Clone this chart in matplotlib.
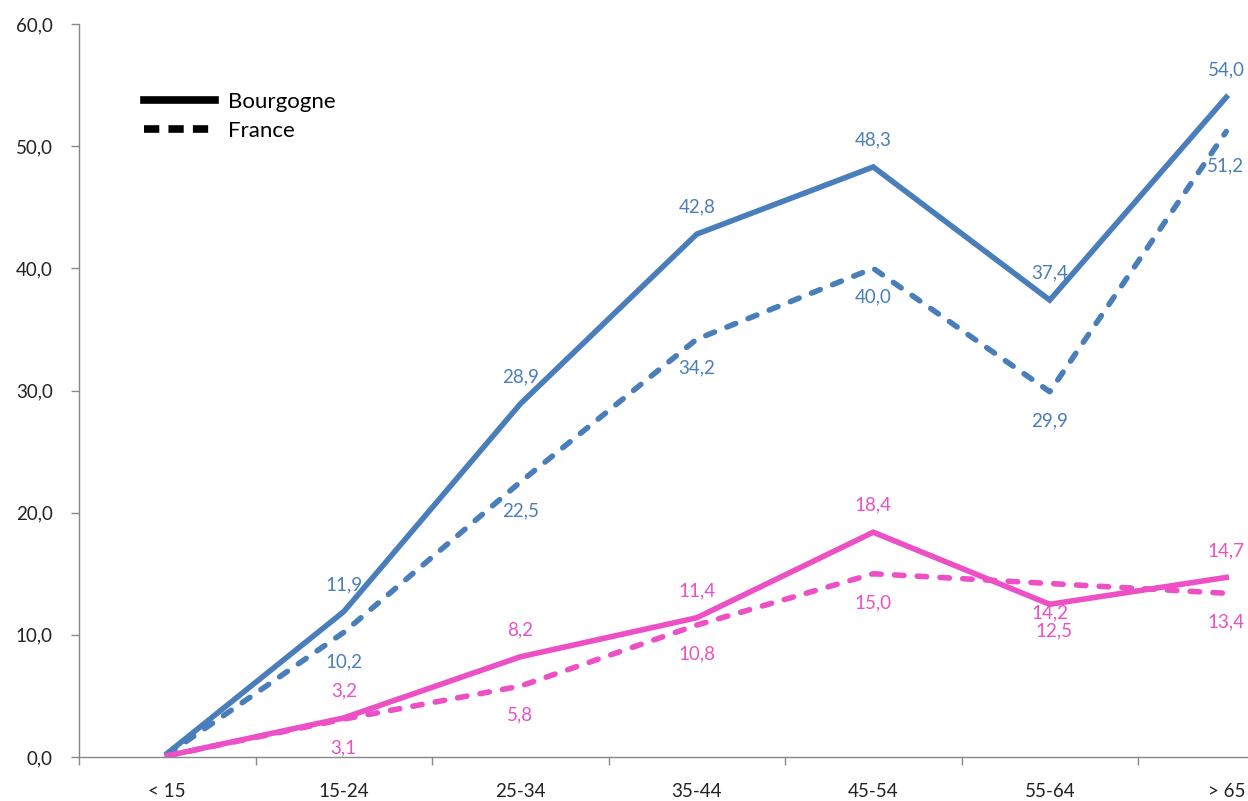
import matplotlib
matplotlib.use("Agg")
import matplotlib.pyplot as plt
from matplotlib.lines import Line2D
from matplotlib.ticker import FuncFormatter, FixedLocator

plt.rcParams['font.family'] = ['Lato', 'DejaVu Sans']

# age groups
categories = ["< 15", "15-24", "25-34", "35-44", "45-54", "55-64", "> 65"]

# blue series
blue_bourgogne = [0.3, 11.9, 28.9, 42.8, 48.3, 37.4, 54.0]
blue_france = [0.2, 10.2, 22.5, 34.2, 40.0, 29.9, 51.2]
# pink series
pink_bourgogne = [0.1, 3.2, 8.2, 11.4, 18.4, 12.5, 14.7]
pink_france = [0.1, 3.1, 5.8, 10.8, 15.0, 14.2, 13.4]

blue = '#4A7EBB'
pink = '#EC50C4'

W, H = 1248, 801
fig = plt.figure(figsize=(W / 100, H / 100), dpi=100)
# axes run past the right edge, like the original
ax = fig.add_axes([79 / W, 44 / H, 1235.5 / W, 733 / H])

x = list(range(len(categories)))
lw = 4.0
dash = (1.7, 2.4)
ax.plot(x, blue_bourgogne, color=blue, lw=lw, solid_joinstyle='miter')
ax.plot(x, blue_france, color=blue, lw=lw, dashes=dash, dash_capstyle='round')
ax.plot(x, pink_bourgogne, color=pink, lw=lw, solid_joinstyle='miter')
ax.plot(x, pink_france, color=pink, lw=lw, dashes=dash, dash_capstyle='round')

def fmt(v):
    return ("%.1f" % v).replace(".", ",")

# data labels: Bourgogne above, France below (12,5 goes below too)
def labels(vals, color, offsets):
    for i, v in enumerate(vals):
        if i == 0:
            continue
        dx, dy = offsets.get(i, (0, 0))
        ax.annotate(fmt(v), (i, v), xytext=(dx, dy), textcoords='offset pixels',
                    ha='center', va='center', color=color, fontsize=13.5,
                    annotation_clip=False)

up = {i: (0, 27) for i in range(1, 7)}
down = {i: (0, -29) for i in range(1, 7)}
labels(blue_bourgogne, blue, up)
bf = dict(down)
bf[6] = (-1, -34)
labels(blue_france, blue, bf)
pb = dict(up)
pb[5] = (4, -27)
labels(pink_bourgogne, pink, pb)
labels(pink_france, pink, down)

ax.set_xlim(-0.5, 6.5)
ax.set_ylim(0, 60)
ax.set_yticks(range(0, 61, 10))
ax.yaxis.set_major_formatter(FuncFormatter(lambda v, p: fmt(v)))
ax.set_xticks(x)
ax.set_xticklabels(categories)
ax.xaxis.set_minor_locator(FixedLocator([i + 0.5 for i in range(-1, 7)]))

for s in ['top', 'right']:
    ax.spines[s].set_visible(False)
for s in ['left', 'bottom']:
    ax.spines[s].set_color('#888888')
    ax.spines[s].set_linewidth(1.0)

ax.tick_params(axis='y', length=6, width=1, color='#888888', pad=13,
               labelsize=13.5, labelcolor='#222222')
ax.tick_params(axis='x', which='major', length=0, pad=19,
               labelsize=13.5, labelcolor='#222222')
ax.tick_params(axis='x', which='minor', length=6, width=1, color='#888888')

handles = [Line2D([], [], color='black', lw=5.5),
           Line2D([], [], color='black', lw=5.5, dashes=(2.0, 1.2))]
fig.legend(handles, ["Bourgogne", "France"], loc='upper left',
           bbox_to_anchor=(124 / W, 1 - 72 / H), frameon=False,
           fontsize=16, handlelength=3.2, handletextpad=0.6,
           labelspacing=0.4)

fig.savefig("out.png", dpi=100)
